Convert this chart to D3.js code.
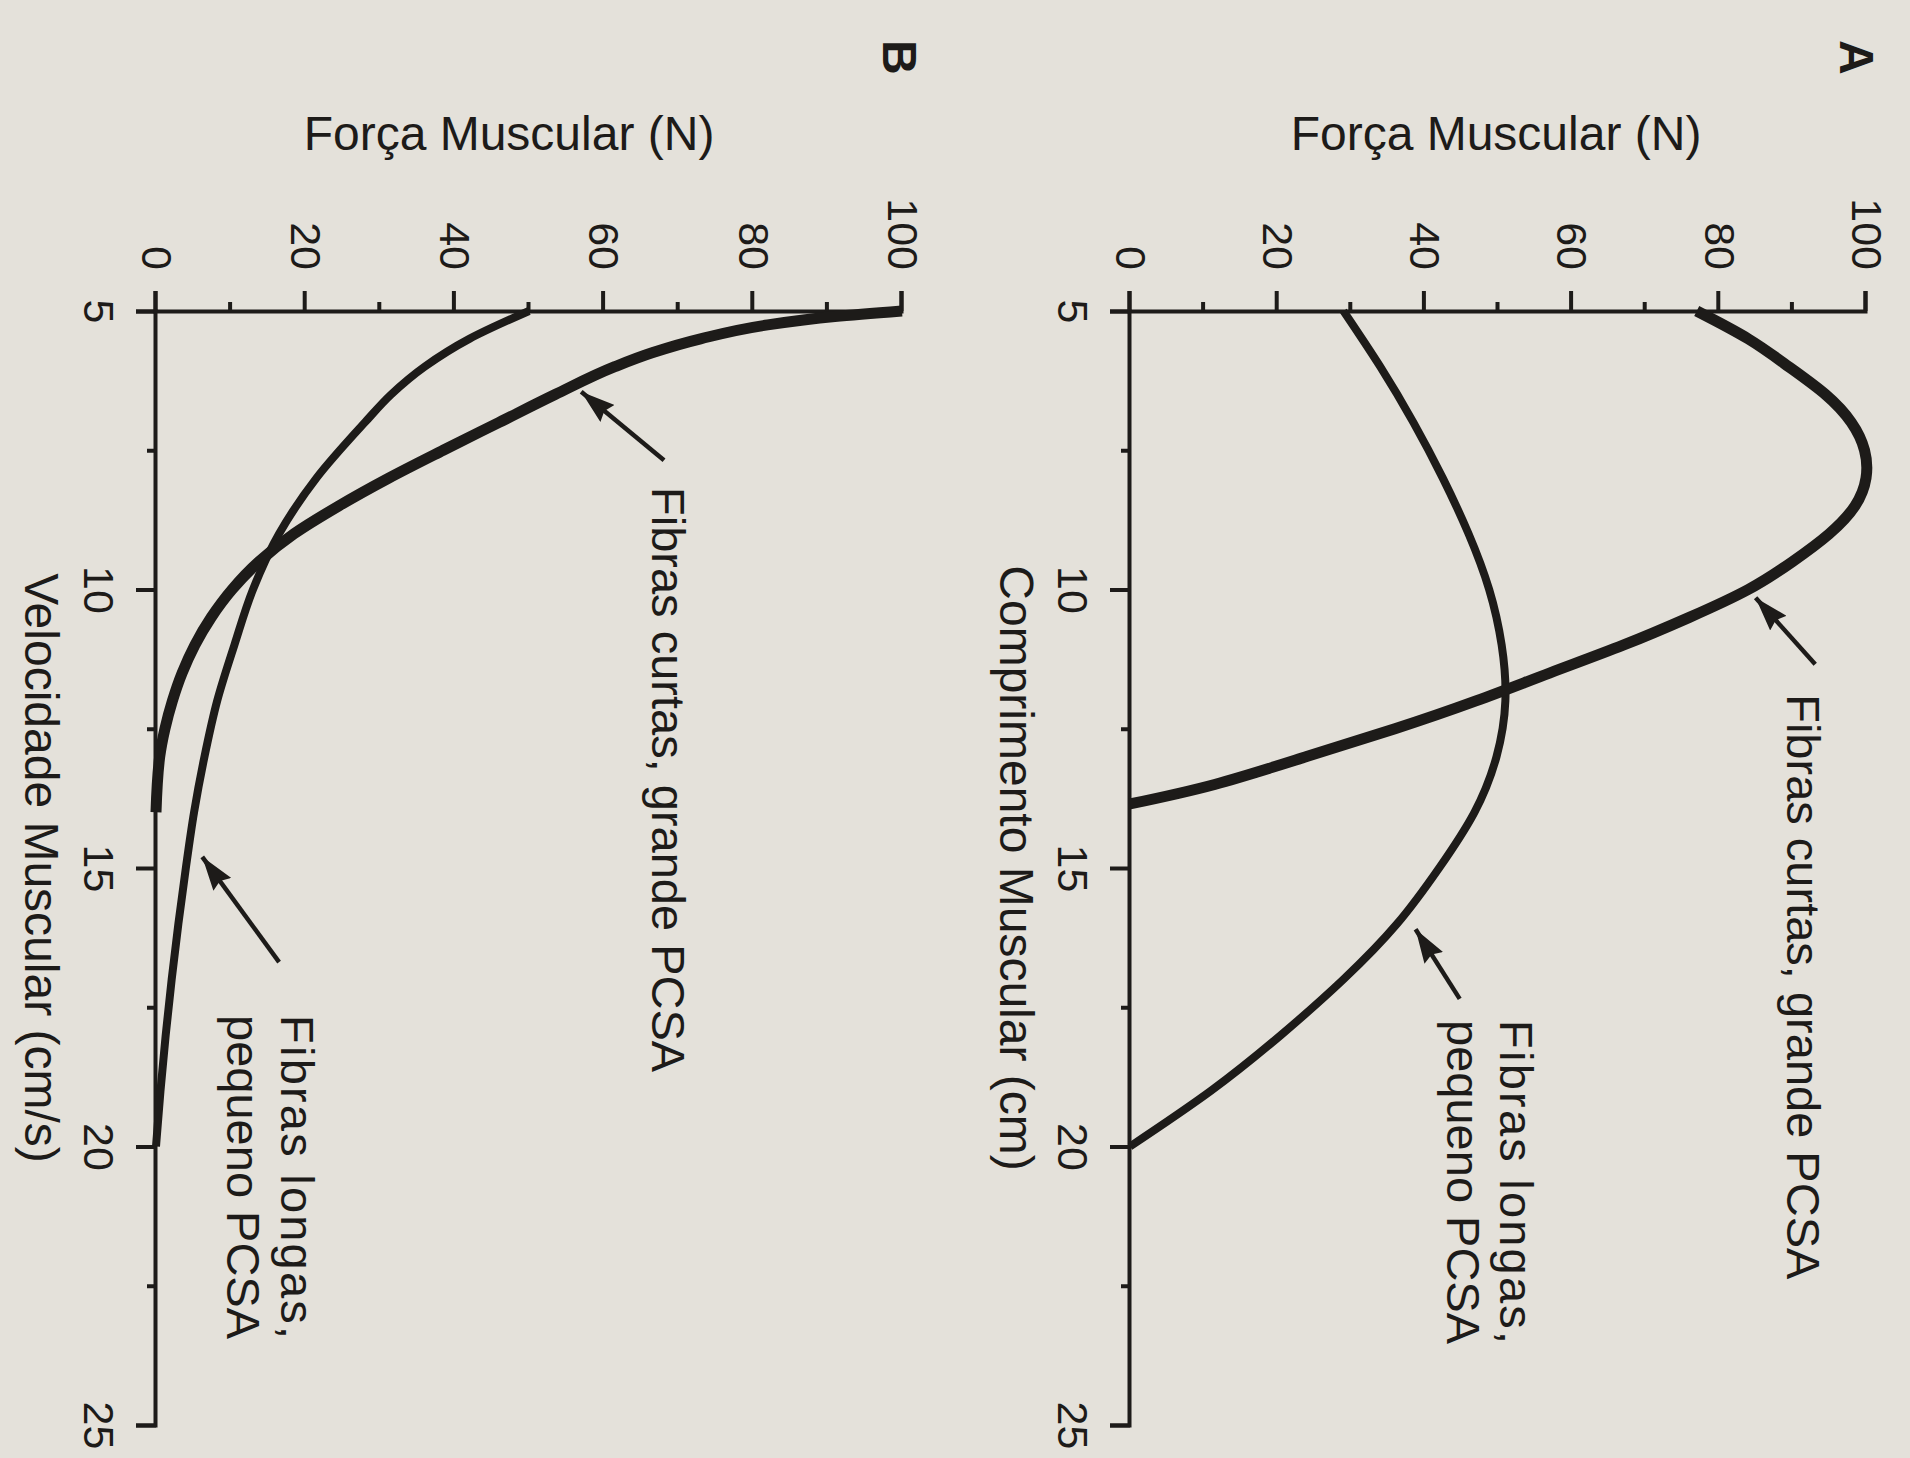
<!DOCTYPE html>
<html>
<head>
<meta charset="utf-8">
<script src="https://cdn.jsdelivr.net/npm/d3@7/dist/d3.min.js"></script>
<style>
  body { margin: 0; background: #e4e1da; }
  svg { display: block; }
  text { font-family: "Liberation Sans", Arial, Helvetica, sans-serif; fill: #1d1b19; }
</style>
</head>
<body>
<svg id="chart" width="1910" height="1458"></svg>
<script>
// A: força x comprimento muscular
var lenShortA   = [5, 5.5, 6, 6.5, 7, 7.5, 8, 8.5, 9, 9.5, 10, 10.5, 11, 11.5, 12, 12.5, 13, 13.5, 13.85]
var forceShortA = [77, 84, 89.5, 94.5, 98, 99.8, 100, 98.5, 95, 90, 84, 76, 67, 57, 47, 36, 24, 11.5, 0]
var lenLongA    = [5, 6, 7, 8, 9, 10, 11, 12, 13, 14, 15, 16, 17, 18, 19, 20]
var forceLongA  = [29, 34, 38.5, 42.5, 46, 48.8, 50.5, 51, 49.8, 46.8, 42, 36.3, 29, 20.5, 11, 0]

// B: força x velocidade muscular
var velShortB   = [5, 5.1, 5.25, 5.5, 5.75, 6, 6.5, 7, 7.5, 8, 8.5, 9, 9.5, 10, 10.5, 11, 11.5, 12, 12.5, 13, 14]
var forceShortB = [100, 91, 82, 73, 66.5, 61.5, 53.5, 46, 38.5, 31.2, 24.5, 18.5, 13.8, 10.2, 7.4, 5.2, 3.5, 2.2, 1.2, 0.5, 0]
var velLongB    = [5, 5.5, 6, 6.5, 7, 8, 9, 10, 11, 12, 13, 14, 15, 16, 17, 18, 19, 20]
var forceLongB  = [50, 42, 36, 31.5, 28, 21.5, 16.5, 13, 10.5, 8.2, 6.5, 5.1, 4, 3, 2.1, 1.3, 0.6, 0]

var xTicks = [5, 10, 15, 20, 25]
var xMinor = [7.5, 12.5, 17.5, 22.5]
var yTicks = [0, 20, 40, 60, 80, 100]
var yMinor = [10, 30, 50, 70, 90]

var W = 1910, H = 1458
var ink = '#1d1b19'

var svg = d3.select('#chart')
svg.append('rect').attr('width', W).attr('height', H).attr('fill', '#e4e1da')

// the printed figure is photographed turned a quarter clockwise
var g = svg.append('g').attr('transform', `translate(${W},0) rotate(90)`)

svg.append('defs').append('marker')
  .attr('id', 'head')
  .attr('markerUnits', 'userSpaceOnUse')
  .attr('viewBox', '0 -11 34 22')
  .attr('refX', 34).attr('refY', 0)
  .attr('markerWidth', 34).attr('markerHeight', 22)
  .attr('orient', 'auto')
  .append('path').attr('d', 'M0,-11 L34,0 L0,11 L4,0 Z').attr('fill', ink)

var x = d3.scaleLinear().domain([5, 25]).range([311, 1425])
var yA = d3.scaleLinear().domain([0, 100]).range([780, 44])
var yB = d3.scaleLinear().domain([0, 100]).range([1754, 1008])

function axes(y, xTitle, titleMid, titleBase, xTitleBase) {
  var gx = g.append('g').attr('transform', `translate(0,${y(0)})`)
    .call(d3.axisBottom(x).tickValues(xTicks).tickSize(20).tickPadding(21).tickSizeOuter(20))
  gx.append('g')
    .call(d3.axisBottom(x).tickValues(xMinor).tickSize(9).tickFormat(''))
    .select('.domain').remove()

  var gy = g.append('g').attr('transform', `translate(${x(5)},0)`)
    .call(d3.axisLeft(y).tickValues(yTicks).tickSize(20).tickPadding(21).tickSizeOuter(20))
  gy.append('g')
    .call(d3.axisLeft(y).tickValues(yMinor).tickSize(9).tickFormat(''))
    .select('.domain').remove()

  ;[gx, gy].forEach(s => {
    s.selectAll('path, line').attr('stroke', ink).attr('stroke-width', 4)
    s.selectAll('text').attr('font-size', 43).attr('fill', ink)
  })

  g.append('text')
    .attr('transform', `translate(${titleBase},${titleMid}) rotate(-90)`)
    .attr('text-anchor', 'middle').attr('font-size', 48)
    .text('Força Muscular (N)')

  g.append('text')
    .attr('x', x(15)).attr('y', xTitleBase)
    .attr('text-anchor', 'middle').attr('font-size', 48)
    .text(xTitle)
}

function curve(xs, ys, y, width, shape) {
  var line = d3.line().x(d => x(d[0])).y(d => y(d[1])).curve(shape)
  g.append('path')
    .attr('d', line(d3.zip(xs, ys)))
    .attr('fill', 'none').attr('stroke', ink)
    .attr('stroke-width', width)
}

function arrow(y, from, to) {
  g.append('line')
    .attr('x1', x(from[0])).attr('y1', y(from[1]))
    .attr('x2', x(to[0])).attr('y2', y(to[1]))
    .attr('stroke', ink).attr('stroke-width', 4.5)
    .attr('marker-end', 'url(#head)')
}

function note(y, at, lines, step) {
  var t = lines.map((s, i) => g.append('text')
    .attr('x', x(at[0])).attr('y', y(at[1]) + i*step)
    .attr('font-size', 47)
    .text(s))
  if (lines.length > 1) {
    var w = t[1].node().getComputedTextLength()
    t[0].attr('textLength', w).attr('lengthAdjust', 'spacing')
  }
}

// panel A
axes(yA, 'Comprimento Muscular (cm)', 414, 150, 910)
curve(lenLongA, forceLongA, yA, 8, d3.curveNatural)
curve(lenShortA, forceShortA, yA, 11, d3.curveNatural)
note(yA, [11.88, 89.3], ['Fibras curtas, grande PCSA'], 0)
arrow(yA, [11.34, 93.1], [10.15, 85])
note(yA, [17.73, 50.3], ['Fibras longas,', 'pequeno PCSA'], 53)
arrow(yA, [17.35, 44.8], [16.1, 38.8])
g.append('text').attr('x', 40).attr('y', 70)
  .attr('font-size', 48).attr('font-weight', 'bold').text('A')

// panel B
axes(yB, 'Velocidade Muscular (cm/s)', 1401, 150, 1885)
curve(velLongB, forceLongB, yB, 8, d3.curveMonotoneX)
curve(velShortB, forceShortB, yB, 11, d3.curveMonotoneX)
note(yB, [8.16, 66.5], ['Fibras curtas, grande PCSA'], 0)
arrow(yB, [7.68, 68.1], [6.45, 57])
note(yB, [17.64, 16.8], ['Fibras longas,', 'pequeno PCSA'], 54)
arrow(yB, [16.69, 16.5], [14.8, 6.2])
g.append('text').attr('x', 40).attr('y', 1027)
  .attr('font-size', 48).attr('font-weight', 'bold').text('B')
</script>
</body>
</html>
